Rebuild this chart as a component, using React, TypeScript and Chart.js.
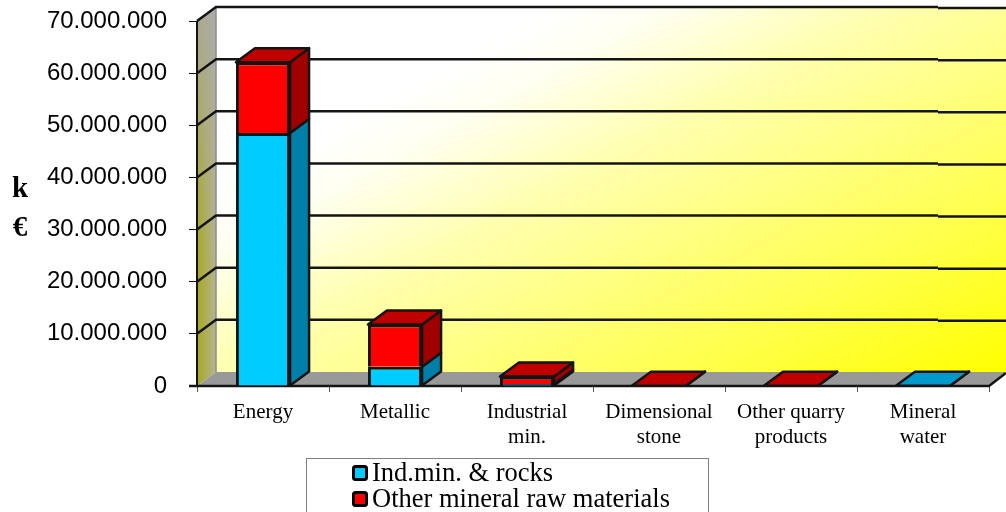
import React, { useEffect, useRef } from "react";
import { Chart, registerables } from "chart.js";

Chart.register(...registerables);

const categories = [
  "Energy",
  "Metallic",
  ["Industrial", "min."],
  ["Dimensional", "stone"],
  ["Other quarry", "products"],
  ["Mineral", "water"],
];
const indMinRocks = [48500000, 3700000, 400000, 0, 0, 50000];
const otherMineral = [13600000, 8100000, 1400000, 50000, 50000, 0];
const seriesNames = ["Ind.min. & rocks", "Other mineral raw materials"];
const axisUnit = ["k", "€"];

const DEPTH_X = 19;
const DEPTH_Y = 14;
const GRID_JOG_X = 938;
const SERIF = "'Liberation Serif', serif";
const SANS = "'Liberation Sans', sans-serif";
const INK = "#141414";

const faceColors = [
  { front: "#00ccff", side: "#0080a8", top: "#0099cc" },
  { front: "#ff0000", side: "#a00000", top: "#c00000" },
];

function quad(ctx: CanvasRenderingContext2D, pts: number[][], fill: string | CanvasGradient, stroke?: string, lw = 2.5) {
  ctx.beginPath();
  pts.forEach(([x, y], i) => (i ? ctx.lineTo(x, y) : ctx.moveTo(x, y)));
  ctx.closePath();
  ctx.fillStyle = fill;
  ctx.fill();
  if (stroke) {
    ctx.strokeStyle = stroke;
    ctx.lineWidth = lw;
    ctx.lineJoin = "round";
    ctx.stroke();
  }
}

// Back wall, side wall, floor and the grid lines that run around them.
const roomPlugin = {
  id: "room",
  beforeDatasetsDraw(chart: any) {
    const { ctx, chartArea: a, scales, width } = chart;
    const y = scales.y;
    const backL = a.left + DEPTH_X;
    const backT = a.top - DEPTH_Y;
    const backB = a.bottom - DEPTH_Y;
    ctx.save();

    const wall = ctx.createLinearGradient(751, -100, 1006, 372);
    wall.addColorStop(0, "#ffffff");
    wall.addColorStop(0.1, "#fffff2");
    wall.addColorStop(0.3, "#ffffb0");
    wall.addColorStop(0.7, "#ffff50");
    wall.addColorStop(1, "#ffff00");
    ctx.fillStyle = wall;
    ctx.fillRect(backL, backT, width - backL, backB - backT);

    const sidePts = [[a.left, a.top], [backL, backT], [backL, backB], [a.left, a.bottom]];
    const sideH = ctx.createLinearGradient(a.left, 0, backL, 0);
    sideH.addColorStop(0, "#a8a820");
    sideH.addColorStop(1, "#b4b494");
    quad(ctx, sidePts, sideH);
    const sideV = ctx.createLinearGradient(0, backT, 0, backB);
    sideV.addColorStop(0, "rgba(170,170,170,0.85)");
    sideV.addColorStop(0.7, "rgba(170,170,170,0)");
    quad(ctx, sidePts, sideV);

    quad(ctx, [[a.left, a.bottom], [backL, backB], [width, backB], [a.right, a.bottom]], "#999999");

    // Soft edge where the side wall meets the back wall.
    ctx.strokeStyle = "#8c8c8c";
    ctx.lineWidth = 1.5;
    ctx.beginPath();
    ctx.moveTo(backL, backT);
    ctx.lineTo(backL, backB);
    ctx.stroke();

    ctx.strokeStyle = INK;
    ctx.lineWidth = 2.5;
    y.ticks.forEach((t: any) => {
      if (t.value === 0) return;
      const py = y.getPixelForValue(t.value);
      ctx.beginPath();
      ctx.moveTo(a.left, py);
      ctx.lineTo(backL, py - DEPTH_Y);
      ctx.lineTo(GRID_JOG_X, py - DEPTH_Y);
      ctx.moveTo(GRID_JOG_X, py - DEPTH_Y + 1);
      ctx.lineTo(width, py - DEPTH_Y + 1);
      ctx.stroke();
    });
    ctx.lineWidth = 2;
    ctx.beginPath();
    ctx.moveTo(a.left, a.top);
    ctx.lineTo(a.left, a.bottom);
    ctx.stroke();
    ctx.lineWidth = 2.5;
    ctx.beginPath();
    ctx.moveTo(a.left - 8, a.bottom);
    ctx.lineTo(a.right, a.bottom);
    ctx.lineTo(a.right + DEPTH_X - 2, a.bottom - DEPTH_Y + 1);
    ctx.stroke();

    // Depth faces of every stacked segment.
    const metas = chart.data.datasets.map((_: any, i: number) => chart.getDatasetMeta(i));
    categories.forEach((_, c) => {
      let topIdx = -1;
      metas.forEach((m: any, s: number) => {
        const p = m.data[c].getProps(["x", "y", "base", "width"], true);
        if (!chart.data.datasets[s].data[c]) return;
        topIdx = s;
        const r = p.x + p.width / 2;
        quad(ctx, [[r, p.base], [r, p.y], [r + DEPTH_X, p.y - DEPTH_Y], [r + DEPTH_X, p.base - DEPTH_Y]], faceColors[s].side, INK);
      });
      if (topIdx < 0) return;
      const p = metas[topIdx].data[c].getProps(["x", "y", "width"], true);
      const l = p.x - p.width / 2;
      const r = p.x + p.width / 2;
      quad(ctx, [[l, p.y], [l + DEPTH_X, p.y - DEPTH_Y], [r + DEPTH_X, p.y - DEPTH_Y], [r, p.y]], faceColors[topIdx].top, INK);
    });
    ctx.restore();
  },
  afterDraw(chart: any) {
    const { ctx } = chart;
    ctx.save();

    // Unit label, stacked one character per line.
    ctx.fillStyle = "#000";
    ctx.font = `bold 29px ${SERIF}`;
    ctx.textAlign = "center";
    ctx.textBaseline = "middle";
    axisUnit.forEach((t, i) => ctx.fillText(t, 20, 190 + i * 39));

    // Legend box.
    ctx.strokeStyle = "#808080";
    ctx.lineWidth = 1;
    ctx.strokeRect(306.5, 458.5, 402, 60);
    ctx.font = `26.5px ${SERIF}`;
    ctx.textAlign = "left";
    ctx.textBaseline = "alphabetic";
    chart.data.datasets.forEach((d: any, i: number) => {
      const top = 466.5 + i * 26;
      ctx.fillStyle = d.backgroundColor;
      ctx.strokeStyle = "#000";
      ctx.lineWidth = 3;
      ctx.beginPath();
      ctx.roundRect(353.5, top, 13, 13, 2);
      ctx.fill();
      ctx.stroke();
      ctx.fillStyle = "#000";
      ctx.fillText(d.label, 372, top + 14.5);
    });
    ctx.restore();
  },
};

export default function App() {
  const ref = useRef<HTMLCanvasElement>(null);
  useEffect(() => {
    const chart = new Chart(ref.current!, {
      type: "bar",
      data: {
        labels: categories as any,
        datasets: [
          { label: seriesNames[0], data: indMinRocks, backgroundColor: faceColors[0].front, borderColor: INK, borderWidth: 3 },
          { label: seriesNames[1], data: otherMineral, backgroundColor: faceColors[1].front, borderColor: INK, borderWidth: 3 },
        ],
      },
      options: {
        responsive: false,
        animation: false,
        layout: { padding: { top: 21, right: 17, left: 0, bottom: 0 } },
        plugins: { legend: { display: false }, tooltip: { enabled: false } },
        datasets: { bar: { categoryPercentage: 1, barPercentage: 0.41 } },
        scales: {
          x: {
            stacked: true,
            afterFit: (s: any) => { s.height = 126; s.paddingTop = 0; s.paddingBottom = 0; },
            grid: { drawOnChartArea: false, drawTicks: true, tickLength: 6, color: "#555", offset: true },
            border: { display: false },
            ticks: { color: "#000", font: { family: SERIF, size: 21, lineHeight: 1.19 }, padding: 8, maxRotation: 0, autoSkip: false },
          },
          y: {
            stacked: true,
            min: 0,
            max: 70000000,
            afterFit: (s: any) => { s.width = 197; s.paddingTop = 0; s.paddingBottom = 0; },
            grid: { drawOnChartArea: false, drawTicks: true, tickLength: 8, color: INK },
            border: { display: false },
            ticks: {
              stepSize: 10000000,
              color: "#000",
              padding: 22,
              font: { family: SANS, size: 24 },
              callback: (v: any) => String(v).replace(/\B(?=(\d{3})+$)/g, "."),
            },
          },
        },
      },
      plugins: [roomPlugin],
    });
    return () => chart.destroy();
  }, []);
  return (
    <canvas
      ref={ref}
      width={1006}
      height={512}
      style={{ position: "absolute", left: 0, top: 0, display: "block" }}
    />
  );
}
